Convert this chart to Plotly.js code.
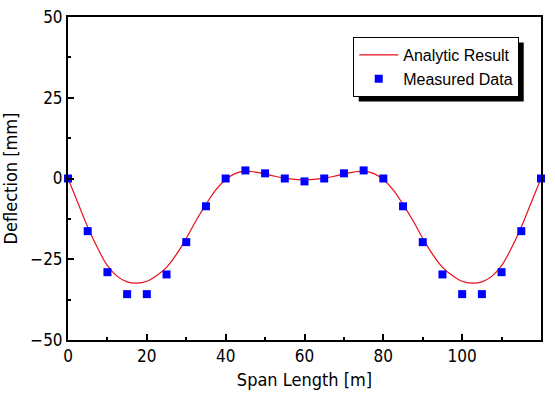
<!DOCTYPE html>
<html>
<head>
<meta charset="utf-8">
<script src="https://cdn.plot.ly/plotly-3.0.1.min.js"></script>
<style>html,body{margin:0;padding:0;background:#fff;}#chart{width:555px;height:398px;}</style>
</head>
<body>
<div id="chart"></div>
<script>
// Analytic result
var curveX = [0,2.5,5,7.5,10,12.5,15,17.5,20,22.5,25,27.5,30,32.5,35,37.5,40,42.5,45,47.5,50,52.5,55,57.5,60,
              62.5,65,67.5,70,72.5,75,77.5,80,82.5,85,87.5,90,92.5,95,97.5,100,102.5,105,107.5,110,112.5,115,117.5,120];
var curveY = [0,-7.5,-15,-21.5,-27,-30.3,-32,-32.4,-31.8,-30,-27.5,-23.5,-18.5,-13,-8,-3.5,-0.3,1.6,2.3,2.0,1.4,0.7,0.1,-0.3,-0.4,
              -0.3,0.1,0.7,1.4,2.0,2.3,1.6,-0.3,-3.5,-8,-13,-18.5,-23.5,-27.5,-30,-31.8,-32.4,-32,-30.3,-27,-21.5,-15,-7.5,0];
// Measured data
var measX = [0,5,10,15,20,25,30,35,40,45,50,55,60,65,70,75,80,85,90,95,100,105,110,115,120];
var measY = [0,-16.3,-29,-35.8,-35.8,-29.7,-19.7,-8.6,0,2.5,1.6,0,-0.9,0,1.6,2.5,0,-8.6,-19.7,-29.7,-35.8,-35.8,-29,-16.3,0];

var FONT = 'DejaVu Sans Condensed, DejaVu Sans, sans-serif';

var traces = [
  {x: curveX, y: curveY, type: 'scatter', mode: 'lines', name: 'Analytic Result',
   line: {color: '#e8101c', width: 1.2, shape: 'spline'}},
  {x: measX, y: measY, type: 'scatter', mode: 'markers', name: 'Measured Data',
   marker: {symbol: 'square', size: 8, color: '#0000ff'}, cliponaxis: false}
];

function axis(extra) {
  return Object.assign({
    showline: true, linecolor: '#000', linewidth: 2, mirror: true,
    ticks: 'inside', ticklen: 6, tickwidth: 1.5, tickcolor: '#000',
    showgrid: false, zeroline: false,
    tickfont: {family: FONT, size: 17, color: '#000'}
  }, extra);
}

var layout = {
  width: 555, height: 398,
  margin: {l: 68, r: 14, t: 17, b: 58},
  paper_bgcolor: '#fff', plot_bgcolor: '#fff',
  showlegend: true,
  xaxis: axis({
    range: [0, 120], tickmode: 'linear', tick0: 0, dtick: 20,
    minor: {ticks: 'inside', ticklen: 3, tickwidth: 1.5, tickcolor: '#000', dtick: 10, showgrid: false},
    title: {text: 'Span Length [m]', font: {family: FONT, size: 18, color: '#000'}, standoff: 8}
  }),
  yaxis: axis({
    range: [-50, 50], tickmode: 'linear', tick0: 0, dtick: 25,
    minor: {ticks: 'inside', ticklen: 3, tickwidth: 1.5, tickcolor: '#000', dtick: 12.5, showgrid: false},
    title: {text: 'Deflection [mm]', font: {family: FONT, size: 18, color: '#000'}, standoff: 8}
  }),
  legend: {
    x: 0.603, y: 0.938, xanchor: 'left', yanchor: 'top',
    bgcolor: '#fff', bordercolor: '#000', borderwidth: 1,
    font: {family: 'Liberation Sans, Arial, sans-serif', size: 16, color: '#000'},
    tracegroupgap: 0, itemwidth: 39
  },
  shapes: []
};

Plotly.newPlot('chart', traces, layout, {displayModeBar: false}).then(function (gd) {
  var bg = gd.querySelector('.legend .bg');
  if (!bg) return;
  var r = bg.getBoundingClientRect();
  var c = gd.getBoundingClientRect();
  var fs = gd._fullLayout._size;
  var off = 5;
  var x0 = (r.left - c.left + off - fs.l) / fs.w;
  var x1 = (r.right - c.left + off - fs.l) / fs.w;
  var y1 = 1 - (r.top - c.top + off - fs.t) / fs.h;
  var y0 = 1 - (r.bottom - c.top + off - fs.t) / fs.h;
  return Plotly.relayout(gd, {shapes: [{type: 'rect', xref: 'paper', yref: 'paper', x0: x0, x1: x1, y0: y0, y1: y1,
               fillcolor: '#000', line: {width: 0}, layer: 'above'}]});
});
</script>
</body>
</html>
